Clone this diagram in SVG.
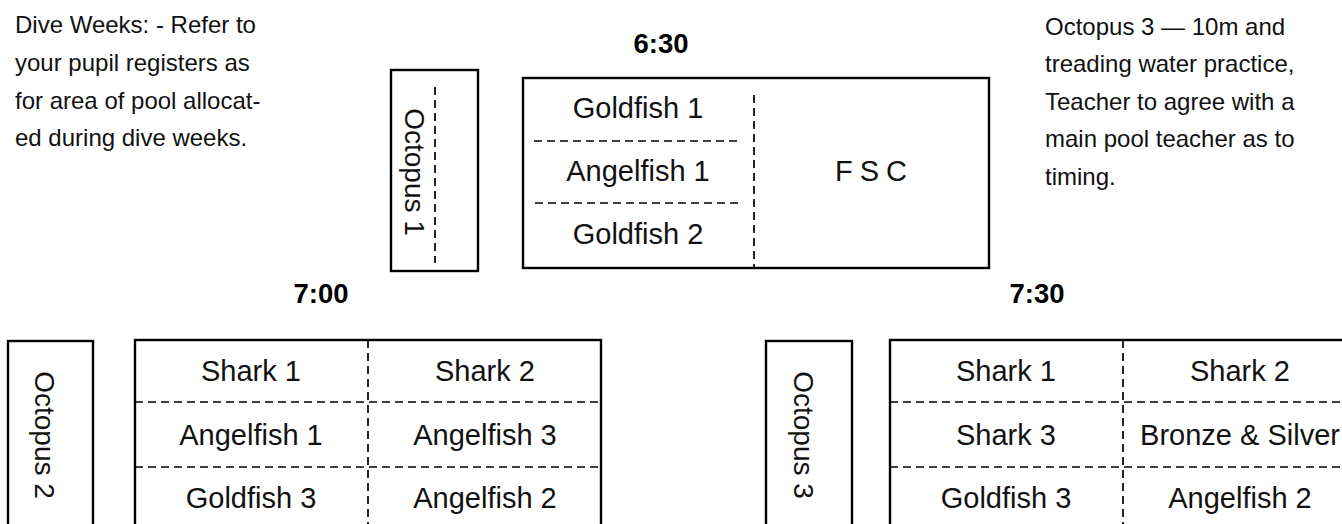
<svg xmlns="http://www.w3.org/2000/svg" width="1342" height="524" viewBox="0 0 1342 524">
<style>
  .box { fill: none; stroke: #000; stroke-width: 2.4; }
  .dash { fill: none; stroke: #000; stroke-width: 1.7; stroke-dasharray: 8 5; }
  .cell { font-family: "Liberation Sans", Arial, sans-serif; font-size: 29px; fill: #111; text-anchor: middle; }
  .oct { font-family: "Liberation Sans", Arial, sans-serif; font-size: 28px; fill: #111; text-anchor: middle; }
  .note { font-family: "Liberation Sans", Arial, sans-serif; font-size: 24px; fill: #111; }
  .time { font-family: "Liberation Sans", Arial, sans-serif; font-size: 27.5px; font-weight: bold; fill: #000; text-anchor: middle; }
</style>
<rect width="1342" height="524" fill="#fff"/>

<g id="note-left">
  <text class="note" x="15" y="33">Dive Weeks: - Refer to</text>
  <text class="note" x="15" y="71">your pupil registers as</text>
  <text class="note" x="15" y="109">for area of pool allocat-</text>
  <text class="note" x="15" y="146">ed during dive weeks.</text>
</g>

<g id="note-right">
  <text class="note" x="1045" y="35">Octopus 3 — 10m and</text>
  <text class="note" x="1045" y="72">treading water practice,</text>
  <text class="note" x="1045" y="110">Teacher to agree with a</text>
  <text class="note" x="1045" y="147">main pool teacher as to</text>
  <text class="note" x="1045" y="185">timing.</text>
</g>

<g id="time-630"><text class="time" x="661" y="53">6:30</text></g>
<g id="time-700"><text class="time" x="321" y="303">7:00</text></g>
<g id="time-730"><text class="time" x="1037" y="303">7:30</text></g>

<g id="octopus-1">
  <rect class="box" x="391" y="70" width="87" height="201"/>
  <text class="oct" transform="translate(405 172) rotate(90)">Octopus 1</text>
</g>

<g id="pool-630">
  <rect class="box" x="523" y="78" width="466" height="190"/>
  <text class="cell" x="638" y="118">Goldfish 1</text>
  <text class="cell" x="638" y="181">Angelfish 1</text>
  <text class="cell" x="638" y="244">Goldfish 2</text>
  <text class="cell" x="871" y="181" style="word-spacing:-1px">F S C</text>
</g>

<g id="octopus-2">
  <rect class="box" x="8" y="341" width="85" height="200"/>
  <text class="oct" transform="translate(35 435) rotate(90)">Octopus 2</text>
</g>

<g id="pool-700">
  <rect class="box" x="135" y="340" width="466" height="200"/>
  <text class="cell" x="251" y="381">Shark 1</text>
  <text class="cell" x="485" y="381">Shark 2</text>
  <text class="cell" x="251" y="445">Angelfish 1</text>
  <text class="cell" x="485" y="445">Angelfish 3</text>
  <text class="cell" x="251" y="508">Goldfish 3</text>
  <text class="cell" x="485" y="508">Angelfish 2</text>
</g>

<g id="octopus-3">
  <rect class="box" x="766" y="341" width="86" height="200"/>
  <text class="oct" transform="translate(794 435) rotate(90)">Octopus 3</text>
</g>

<g id="pool-730">
  <rect class="box" x="890" y="340" width="466" height="200"/>
  <text class="cell" x="1006" y="381">Shark 1</text>
  <text class="cell" x="1240" y="381">Shark 2</text>
  <text class="cell" x="1006" y="445">Shark 3</text>
  <text class="cell" x="1240" y="445">Bronze &amp; Silver</text>
  <text class="cell" x="1006" y="508">Goldfish 3</text>
  <text class="cell" x="1240" y="508">Angelfish 2</text>
</g>

<g id="connectors">
  <line class="dash" x1="435" y1="87" x2="435" y2="263"/>
  <line class="dash" x1="754" y1="95" x2="754" y2="268"/>
  <line class="dash" x1="534" y1="141" x2="739" y2="141"/>
  <line class="dash" x1="535" y1="203" x2="739" y2="203"/>
  <line class="dash" x1="368" y1="340" x2="368" y2="524"/>
  <line class="dash" x1="135" y1="402" x2="601" y2="402"/>
  <line class="dash" x1="135" y1="467" x2="601" y2="467"/>
  <line class="dash" x1="1123" y1="340" x2="1123" y2="524"/>
  <line class="dash" x1="890" y1="402" x2="1342" y2="402"/>
  <line class="dash" x1="890" y1="467" x2="1342" y2="467"/>
</g>
</svg>
